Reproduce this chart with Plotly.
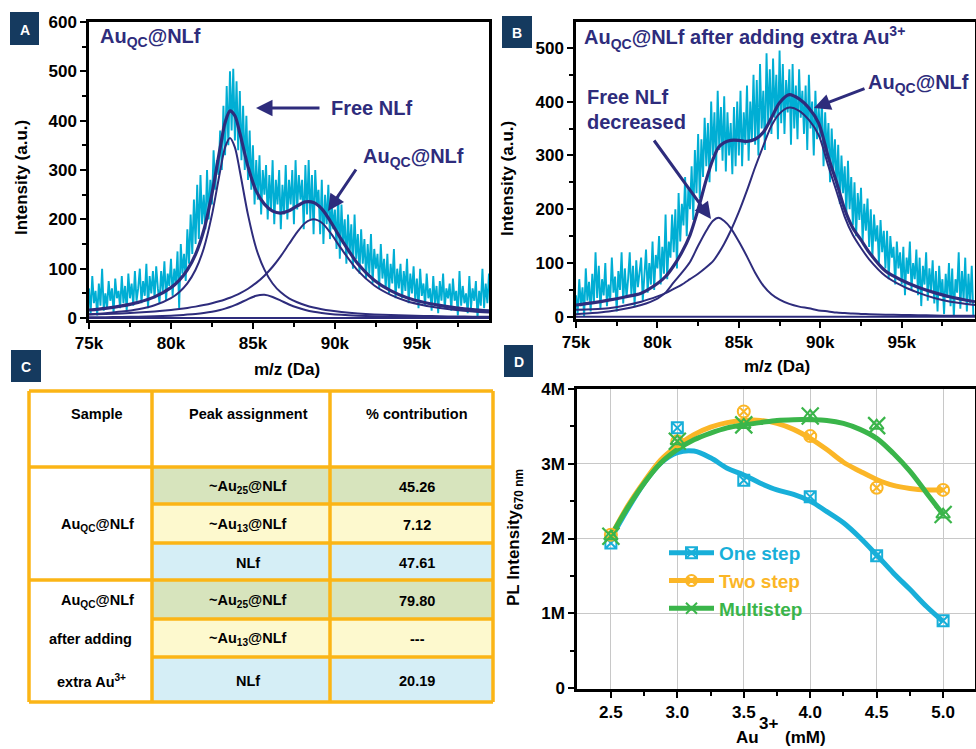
import plotly.graph_objects as go

W, H = 976, 749
FONT = "Liberation Sans, Arial, sans-serif"

# ---------------- Panel A data (m/z in kDa) ----------------
spec_a = [
    60, 10, 85, 30, 55, 5, 70, 25, 100, 15,
    50, 20, 75, 35, 60, 10, 80, 40, 55, 20,
    85, 30, 65, 15, 90, 40, 70, 25, 95, 35,
    60, 100, 30, 75, 45, 110, 20, 85, 50, 95,
    40, 105, 60, 30, 95, 55, 115, 35, 90, 65,
    120, 45, 100, 70, 135, 20, 150, 90, 130, 75,
    180, 110, 210, 130, 240, 150, 270, 160, 290, 190,
    250, 180, 300, 200, 280, 230, 340, 260, 320, 290,
    380, 300, 430, 330, 470, 350, 500, 380, 505, 360,
    480, 340, 460, 320, 430, 300, 410, 280, 380, 260,
    350, 230, 320, 240, 330, 210, 300, 250, 310, 200,
    290, 220, 320, 190, 280, 230, 300, 180, 270, 210,
    310, 200, 280, 230, 300, 190, 320, 220, 290, 240,
    280, 180, 310, 210, 320, 200, 290, 170, 300, 230,
    260, 170, 280, 150, 250, 190, 270, 160, 240, 180,
    220, 140, 250, 120, 230, 150, 200, 110, 210, 130,
    190, 100, 210, 120, 170, 90, 180, 110, 160, 80,
    150, 90, 170, 70, 140, 100, 130, 60, 150, 80,
    120, 60, 130, 50, 110, 70, 140, 40, 100, 60,
    110, 40, 95, 55, 120, 30, 90, 50, 105, 35,
    80, 20, 100, 45, 70, 25, 90, 40, 60, 15,
    85, 30, 65, 10, 75, 35, 90, 20, 60, 40,
    70, 15, 80, 35, 55, 5, 95, 25, 65, 30,
    50, 10, 85, 20, 60, 35, 75, 0, 55, 25,
    100, 20, 70, 30, 90,
]
fit_x_a = [75, 76, 77, 78, 79, 80, 80.5, 81, 81.5, 82, 82.5, 83, 83.3, 83.6, 83.9,
           84.2, 84.7, 85.2, 85.7, 86.2, 86.7, 87.2, 87.7, 88.2, 88.7, 89.2, 89.7,
           90.4, 91.4, 92.4, 93.4, 94.4, 95.4, 96.4, 97.4, 98.4, 99.5]
fit_total_a = [16.2, 19.7, 24.6, 31.8, 42.9, 61.6, 76.4, 97.7, 129.2, 177.4, 251.7, 345,
               396, 420, 410, 375, 306.7, 257.2, 230.8, 216.6, 212.8, 217.5, 227.2, 235.3,
               234.1, 221.1, 197.5, 158.7, 110, 76.8, 55.6, 41.1, 31.9, 25.5, 20.7, 17.1, 14.2]
fit_nlf_a = [7.8, 9.9, 13.0, 17.9, 25.9, 40.4, 52.4, 70.3, 97.8, 141, 209, 298, 346, 365,
             346, 298, 209, 141, 98, 70, 52, 40, 32, 25.9, 21.3, 17.9, 15.2, 12.3, 9.4,
             7.4, 6.0, 5.0, 4.2, 3.6, 3.1, 2.7, 2.3]
fit_au25_a = [6.9, 8.0, 9.4, 11.1, 13.4, 16.4, 18.3, 20.5, 23.1, 26.2, 29.9, 34.4, 37.7,
              41.2, 45.4, 50, 59.3, 71.2, 85.8, 103.9, 125.6, 150, 174, 193, 200, 193,
              174, 140, 96, 66, 47, 34, 26, 20.5, 16.4, 13.4, 11]
fit_au13_a = [1.5, 1.8, 2.2, 2.8, 3.6, 4.8, 5.7, 6.9, 8.3, 10.2, 12.8, 16.4, 19.1, 22.3,
              26.1, 30.5, 38.4, 45, 47, 42.7, 35.2, 27.5, 21.2, 16.4, 12.8, 10.2, 8.3,
              6.4, 4.6, 3.4, 2.6, 2.1, 1.7, 1.4, 1.2, 1.0, 0.85]

# ---------------- Panel B data ----------------
spec_b = [
    40, 5, 70, 20, 55, 0, 90, 30, 65, 10,
    80, 25, 120, 35, 95, 15, 70, 40, 100, 20,
    60, 30, 110, 45, 75, 10, 85, 50, 120, 25,
    90, 35, 70, 120, 40, 95, 20, 105, 55, 80,
    110, 30, 85, 125, 45, 100, 60, 140, 50, 115,
    90, 150, 60, 130, 80, 190, 70, 140, 110, 190,
    120, 200, 90, 230, 140, 210, 170, 260, 150, 240,
    200, 280, 180, 310, 230, 340, 220, 330, 260, 370,
    280, 360, 250, 400, 300, 380, 270, 420, 310, 390,
    290, 410, 270, 380, 300, 360, 265, 390, 280, 400,
    300, 420, 280, 380, 320, 430, 290, 400, 330, 450,
    320, 440, 300, 470, 350, 420, 310, 490, 360, 460,
    340, 480, 370, 450, 330, 495, 360, 470, 340, 440,
    380, 460, 320, 470, 350, 430, 330, 460, 370, 420,
    340, 430, 310, 450, 350, 400, 300, 420, 330, 390,
    330, 400, 280, 380, 300, 360, 250, 350, 270, 330,
    240, 320, 210, 300, 230, 280, 190, 290, 200, 260,
    170, 250, 150, 230, 180, 240, 140, 210, 160, 220,
    130, 200, 110, 190, 140, 170, 100, 180, 120, 160,
    90, 160, 70, 150, 110, 130, 60, 140, 90, 120,
    60, 130, 40, 110, 80, 140, 50, 100, 70, 125,
    40, 110, 20, 95, 60, 120, 30, 90, 50, 105,
    25, 85, 10, 95, 40, 70, 5, 80, 35, 100,
    20, 90, 0, 70, 45, 120, 15, 85, 30, 110,
    10, 80, 25, 95, 0,
]
fit_x_b = [75, 76, 77, 78, 79, 80, 80.5, 81, 81.5, 82, 82.5, 83, 83.4, 83.75, 84.1, 84.5,
           85, 85.5, 86, 86.5, 87, 87.5, 88.1, 88.7, 89.3, 89.9, 90.5, 91, 91.5, 92, 92.5,
           93, 94, 95, 96, 97, 98, 99.5]
fit_total_b = [22, 26, 31, 37, 44, 62, 75, 95, 120, 152, 200, 255, 292, 315, 324, 328,
               328, 326, 330, 343, 370, 398, 413, 405, 388, 360, 296, 250, 200, 165, 143,
               120, 85, 68, 55, 45, 37, 28]
fit_nlf_b = [5, 7, 10, 15, 22, 34, 45, 64, 82, 102, 132, 160, 178, 184, 178, 165, 140, 112,
             82, 58, 42, 32, 24, 19, 16, 12, 10, 8, 7, 6, 5.5, 5, 4, 3.5, 3, 2.5, 2, 2]
fit_au25_b = [13, 14, 16, 21, 28, 38, 44, 52, 60, 70, 80, 92, 103, 118, 136, 160, 195, 235,
              278, 318, 355, 378, 389, 383, 366, 338, 280, 233, 186, 152, 128, 107, 76, 58,
              45, 35, 28, 22]

# ---------------- Panel C table ----------------
table_header = ["Sample", "Peak assignment", "% contribution"]
peak_assignment = ["~Au<sub>25</sub>@NLf", "~Au<sub>13</sub>@NLf", "NLf",
                   "~Au<sub>25</sub>@NLf", "~Au<sub>13</sub>@NLf", "NLf"]
contribution = ["45.26", "7.12", "47.61", "79.80", "---", "20.19"]
sample_group1 = ["Au<sub>QC</sub>@NLf"]
sample_group2 = ["Au<sub>QC</sub>@NLf", "after adding", "extra Au<sup>3+</sup>"]

# ---------------- Panel D data ----------------
conc = [2.5, 3.0, 3.5, 4.0, 4.5, 5.0]
one_step = [1.94e6, 3.48e6, 2.78e6, 2.56e6, 1.77e6, 0.90e6]
two_step = [2.05e6, 3.30e6, 3.70e6, 3.37e6, 2.68e6, 2.65e6]
multi_step = [2.03e6, 3.30e6, 3.52e6, 3.64e6, 3.51e6, 2.32e6]
curve_x = [2.5, 2.625, 2.75, 2.875, 3.0, 3.125, 3.25, 3.375, 3.5, 3.625, 3.75, 3.875,
           4.0, 4.125, 4.25, 4.375, 4.5, 4.625, 4.75, 4.875, 5.0]
one_curve = [2.0e6, 2.39e6, 2.74e6, 3.01e6, 3.15e6, 3.17e6, 3.08e6, 2.94e6, 2.85e6, 2.74e6,
             2.65e6, 2.59e6, 2.50e6, 2.36e6, 2.21e6, 2.01e6, 1.78e6, 1.54e6, 1.32e6,
             1.09e6, 0.89e6]
two_curve = [2.03e6, 2.43e6, 2.76e6, 3.05e6, 3.24e6, 3.39e6, 3.49e6, 3.55e6, 3.58e6,
             3.58e6, 3.54e6, 3.46e6, 3.34e6, 3.19e6, 3.02e6, 2.90e6, 2.79e6, 2.71e6,
             2.67e6, 2.65e6, 2.65e6]
multi_curve = [2.03e6, 2.41e6, 2.74e6, 3.01e6, 3.19e6, 3.32e6, 3.41e6, 3.48e6, 3.52e6,
               3.55e6, 3.58e6, 3.59e6, 3.59e6, 3.58e6, 3.54e6, 3.46e6, 3.34e6, 3.14e6,
               2.90e6, 2.61e6, 2.32e6]

# ---------------- colours ----------------
SPEC = "#00aed4"
NAVY = "#2e2c7c"
LBL = "#153a5f"
C_ONE = "#18afd9"
C_TWO = "#fbb627"
C_MULTI = "#3ab54a"
BORDER = "#fbb516"
GREEN_CELL = "#d7e4bd"
YELLOW_CELL = "#fdf9ce"
BLUE_CELL = "#d5eef6"

mz_a = [round(75.0 + 0.1 * i, 1) for i in range(len(spec_a))]
mz_b = [round(75.0 + 0.1 * i, 1) for i in range(len(spec_b))]

fig = go.Figure()

# Panel A
fig.add_trace(go.Scatter(x=mz_a, y=spec_a, mode="lines", line=dict(color=SPEC, width=1.9),
                         xaxis="x", yaxis="y", showlegend=False, hoverinfo="skip"))
fig.add_trace(go.Scatter(x=[75, 99.4], y=[0, 0], mode="lines", line=dict(color=NAVY, width=2),
                         xaxis="x", yaxis="y", showlegend=False))
for ys, w in [(fit_au13_a, 2), (fit_au25_a, 2), (fit_nlf_a, 2), (fit_total_a, 3.2)]:
    fig.add_trace(go.Scatter(x=fit_x_a, y=ys, mode="lines",
                             line=dict(color=NAVY, width=w, shape="spline", smoothing=0.8),
                             xaxis="x", yaxis="y", showlegend=False))

# Panel B
fig.add_trace(go.Scatter(x=mz_b, y=spec_b, mode="lines", line=dict(color=SPEC, width=1.9),
                         xaxis="x2", yaxis="y2", showlegend=False, hoverinfo="skip"))
fig.add_trace(go.Scatter(x=[75, 99.5], y=[0, 0], mode="lines", line=dict(color=NAVY, width=2),
                         xaxis="x2", yaxis="y2", showlegend=False))
for ys, w in [(fit_nlf_b, 2), (fit_au25_b, 2), (fit_total_b, 3.2)]:
    fig.add_trace(go.Scatter(x=fit_x_b, y=ys, mode="lines",
                             line=dict(color=NAVY, width=w, shape="spline", smoothing=0.8),
                             xaxis="x2", yaxis="y2", showlegend=False))

# Panel D curves
for ys, col in [(one_curve, C_ONE), (two_curve, C_TWO), (multi_curve, C_MULTI)]:
    fig.add_trace(go.Scatter(x=curve_x, y=ys, mode="lines",
                             line=dict(color=col, width=5, shape="spline", smoothing=1.0),
                             xaxis="x3", yaxis="y3", showlegend=False))
# markers
fig.add_trace(go.Scatter(x=conc, y=one_step, mode="markers",
                         marker=dict(symbol="square-x-open", size=11, color=C_ONE, line=dict(width=2)),
                         xaxis="x3", yaxis="y3", showlegend=False))
fig.add_trace(go.Scatter(x=conc, y=two_step, mode="markers",
                         marker=dict(symbol="circle-x-open", size=12, color=C_TWO, line=dict(width=2)),
                         xaxis="x3", yaxis="y3", showlegend=False))
fig.add_trace(go.Scatter(x=conc, y=multi_step, mode="markers",
                         marker=dict(symbol="triangle-up-open", size=12, color=C_MULTI, line=dict(width=2)),
                         xaxis="x3", yaxis="y3", showlegend=False))
fig.add_trace(go.Scatter(x=conc, y=multi_step, mode="markers",
                         marker=dict(symbol="x-thin", size=17, color=C_MULTI, line=dict(width=2.2, color=C_MULTI)),
                         xaxis="x3", yaxis="y3", showlegend=False))
# legend entries
for name, col, sym in [("One step", C_ONE, "square-x-open"), ("Two step", C_TWO, "circle-x-open"),
                       ("Multistep", C_MULTI, "x-thin")]:
    fig.add_trace(go.Scatter(x=[None], y=[None], mode="lines+markers",
                             name=f"<span style='color:{col}'>{name}</span>",
                             line=dict(color=col, width=5),
                             marker=dict(symbol=sym, size=11, color=col, line=dict(width=2, color=col)),
                             xaxis="x3", yaxis="y3", showlegend=True))

TICKFONT = dict(family=FONT, size=17, color="black", weight="bold")


def px(x):
    return x / W


def py(y):
    return 1 - y / H


def frame_axis(**kw):
    d = dict(showline=True, linewidth=2.5, linecolor="black", mirror=True, ticks="outside",
             ticklen=6, tickwidth=2, tickcolor="black", zeroline=False, tickfont=TICKFONT,
             fixedrange=True)
    d.update(kw)
    return d


mz_ticks = [75, 80, 85, 90, 95]
mz_text = ["75k", "80k", "85k", "90k", "95k"]
mz_minor = dict(tickmode="array", tickvals=[77.5, 82.5, 87.5, 92.5, 97.5], ticks="outside",
                ticklen=4, tickwidth=2, tickcolor="black", showgrid=False)

fig.update_layout(
    width=W, height=H, autosize=False,
    margin=dict(l=0, r=0, t=0, b=0, pad=0, autoexpand=False),
    paper_bgcolor="white", plot_bgcolor="white",
    font=dict(family=FONT, color="black"),
    xaxis=frame_axis(domain=[px(89), px(489)], range=[75, 99.4], anchor="y", tickmode="array",
                     tickvals=mz_ticks, ticktext=mz_text, showgrid=False, minor=mz_minor),
    yaxis=frame_axis(domain=[py(320), py(22)], range=[-4, 600], anchor="x", tickmode="array",
                     tickvals=[0, 100, 200, 300, 400, 500, 600], showgrid=False,
                     minor=dict(tickmode="array", tickvals=[50, 150, 250, 350, 450, 550],
                                ticks="outside", ticklen=4, tickwidth=2, tickcolor="black",
                                showgrid=False)),
    xaxis2=frame_axis(domain=[px(576), px(975)], range=[75, 99.5], anchor="y2", tickmode="array",
                      tickvals=mz_ticks, ticktext=mz_text, showgrid=False, minor=mz_minor),
    yaxis2=frame_axis(domain=[py(319), py(22)], range=[-4, 548], anchor="x2", tickmode="array",
                      tickvals=[0, 100, 200, 300, 400, 500], showgrid=False,
                      minor=dict(tickmode="array", tickvals=[50, 150, 250, 350, 450],
                                 ticks="outside", ticklen=4, tickwidth=2, tickcolor="black",
                                 showgrid=False)),
    xaxis3=frame_axis(domain=[px(577), px(975)], range=[2.245, 5.24], anchor="y3", tickmode="array",
                      tickvals=conc, ticktext=["2.5", "3.0", "3.5", "4.0", "4.5", "5.0"],
                      showgrid=True, gridcolor="#c8c8c8", gridwidth=1.3,
                      minor=dict(tickmode="array", tickvals=[2.75, 3.25, 3.75, 4.25, 4.75],
                                 ticks="outside", ticklen=4, tickwidth=2, tickcolor="black",
                                 showgrid=False)),
    yaxis3=frame_axis(domain=[py(689), py(389)], range=[-13000, 4.0e6], anchor="x3", tickmode="array",
                      tickvals=[0, 1e6, 2e6, 3e6, 4e6], ticktext=["0", "1M", "2M", "3M", "4M"],
                      showgrid=True, gridcolor="#c8c8c8", gridwidth=1.3,
                      minor=dict(tickmode="array", tickvals=[0.5e6, 1.5e6, 2.5e6, 3.5e6],
                                 ticks="outside", ticklen=4, tickwidth=2, tickcolor="black",
                                 showgrid=False)),
    legend=dict(x=px(664), y=py(534), xanchor="left", yanchor="top", bgcolor="rgba(0,0,0,0)",
                font=dict(family=FONT, size=19, weight="bold"), tracegroupgap=0,
                itemwidth=45, traceorder="normal"),
)

annotations = []
shapes = []


def ann(x, y, text, size=17, color="black", xanchor="center", angle=0, yanchor="middle"):
    annotations.append(dict(x=px(x), y=py(y), xref="paper", yref="paper", text=text,
                            showarrow=False, textangle=angle, xanchor=xanchor, yanchor=yanchor,
                            font=dict(family=FONT, size=size, color=color, weight="bold")))


def arrow(hx, hy, tx, ty):
    annotations.append(dict(x=px(hx), y=py(hy), xref="paper", yref="paper", text="",
                            showarrow=True, ax=tx - hx, ay=ty - hy, arrowhead=2, arrowsize=1.1,
                            arrowwidth=3, arrowcolor=NAVY))


# panel letters
for (x0, y0, x1, y1, letter) in [(10, 12, 39, 45, "A"), (502, 16, 532, 48, "B"),
                                 (11, 350, 41, 382, "C"), (504, 345, 533, 377, "D")]:
    shapes.append(dict(type="rect", xref="paper", yref="paper", x0=px(x0), x1=px(x1),
                       y0=py(y1), y1=py(y0), fillcolor=LBL, line=dict(width=0)))
    ann((x0 + x1) / 2, (y0 + y1) / 2 + 1, letter, size=14, color="white")

# panel A texts
ann(98, 38, "Au<sub>QC</sub>@NLf", size=20, color=NAVY, xanchor="left")
ann(329, 108, "Free NLf", size=20, color=NAVY, xanchor="left")
arrow(256, 108, 321, 108)
ann(361, 158, "Au<sub>QC</sub>@NLf", size=20, color=NAVY, xanchor="left")
arrow(328, 211, 357, 168)
ann(22, 178, "Intensity (a.u.)", size=17, angle=-90)
ann(287, 369, "m/z (Da)", size=17)

# panel B texts
ann(582, 38, "Au<sub>QC</sub>@NLf after adding extra Au<sup>3+</sup>", size=20, color=NAVY,
    xanchor="left")
ann(585, 97, "Free NLf", size=20, color=NAVY, xanchor="left")
ann(585, 122, "decreased", size=20, color=NAVY, xanchor="left")
arrow(711, 219, 653, 139)
ann(866, 83, "Au<sub>QC</sub>@NLf", size=20, color=NAVY, xanchor="left")
arrow(814, 108, 866, 88)
ann(508, 178, "Intensity (a.u.)", size=17, angle=-90)
ann(777, 366, "m/z (Da)", size=17)

# panel D texts
ann(515, 538, "PL Intensity<sub>670 nm</sub>", size=17, angle=-90)
ann(747, 737, "Au", size=17)
ann(768, 723, "3+", size=17)
ann(805, 737, "(mM)", size=17)

# ---------------- table ----------------
tx = [29, 152, 330, 493]
ty = [391, 467, 504, 543, 580, 619, 657, 702]
fills = [GREEN_CELL, YELLOW_CELL, BLUE_CELL, GREEN_CELL, YELLOW_CELL, BLUE_CELL]
for i, fc in enumerate(fills):
    shapes.append(dict(type="rect", xref="paper", yref="paper", x0=px(tx[1]), x1=px(tx[3]),
                       y0=py(ty[i + 2]), y1=py(ty[i + 1]), fillcolor=fc, line=dict(width=0)))


def hline(x0, x1, y):
    shapes.append(dict(type="line", xref="paper", yref="paper", x0=px(x0), x1=px(x1),
                       y0=py(y), y1=py(y), line=dict(color=BORDER, width=3.5)))


def vline(x, y0, y1):
    shapes.append(dict(type="line", xref="paper", yref="paper", x0=px(x), x1=px(x),
                       y0=py(y0), y1=py(y1), line=dict(color=BORDER, width=3.5)))


for y in [ty[0], ty[1], ty[4], ty[7]]:
    hline(tx[0], tx[3], y)
for y in [ty[2], ty[3], ty[5], ty[6]]:
    hline(tx[1], tx[3], y)
for x in tx:
    vline(x, ty[0], ty[7])

hdr_x = [97, 248, 417]
for xh, t in zip(hdr_x, table_header):
    ann(xh, 414, t, size=14.5)
row_y = [(ty[i + 1] + ty[i + 2]) / 2 + 1 for i in range(6)]
for yr, pa, ct in zip(row_y, peak_assignment, contribution):
    ann(248, yr, pa, size=14.5)
    ann(417, yr, ct, size=14.5)
ann(97, row_y[1], sample_group1[0], size=14.5)
for yr, t, xs in zip(row_y[3:], sample_group2, [97, 90, 91]):
    ann(xs, yr, t, size=14.5)

fig.update_layout(annotations=annotations, shapes=shapes)
fig.write_html("out.html")
